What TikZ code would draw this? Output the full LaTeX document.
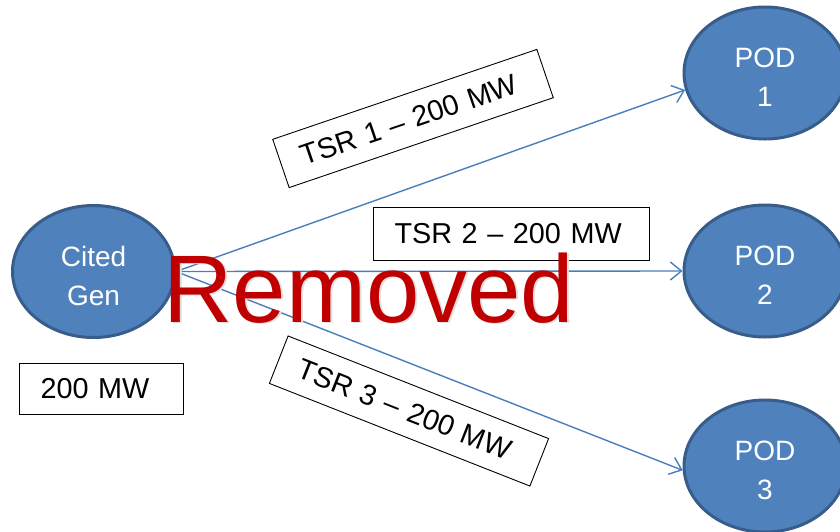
\documentclass[tikz,border=0pt]{standalone}
\usepackage{fontspec}
\setmainfont{Liberation Sans}
\usetikzlibrary{shapes.geometric,arrows.meta}
\definecolor{nodefill}{HTML}{4F81BD}
\definecolor{nodeline}{HTML}{385D8A}
\definecolor{linkcol}{HTML}{4A7EBB}
\definecolor{remred}{HTML}{C00000}
\newcommand{\twoline}[2]{\raisebox{-12.5pt}[0pt][0pt]{\begin{tabular}{@{}c@{}}#1\\#2\end{tabular}}}
\tikzset{
  bubble/.style={ellipse, fill=nodefill, draw=nodeline, line width=3pt,
    minimum width=162pt, minimum height=132pt, inner sep=0pt, text=white,
    font=\fontsize{28}{39}\selectfont},
  tag/.style={draw=black, line width=0.9pt, fill=white, inner ysep=0pt,
    inner xsep=21.5pt, text width=#1-43pt, align=left,
    minimum height=51pt, font=\fontsize{28.8}{34}\selectfont},
  link/.style={draw=linkcol, line width=1.4pt,
    -{Straight Barb[length=11pt,width=18pt,line width=1.4pt]}}
}
\begin{document}
\begin{tikzpicture}[x=1pt,y=-1pt]
\useasboundingbox (0,0) rectangle (840,531);
\clip (0,0) rectangle (840,531);
\node[bubble] (gen) at (93.5,271.5) {\twoline{Cited}{Gen}};
\node[bubble] (pod1) at (765,73) {\twoline{POD}{1}};
\node[bubble] (pod2) at (765,271) {\twoline{POD}{2}};
\node[bubble] (pod3) at (765,466) {\twoline{POD}{3}};
\node[tag=164pt] (mw) at (101,389) {200 MW};
\node[tag=279pt, rotate=18.8] (tsr1) at (413,118.5) {TSR 1 -- 200 MW};
\node[tag=276pt, minimum height=53pt] (tsr2) at (511,233.5) {TSR 2 -- 200 MW};
\node[tag=280pt, rotate=-21.5] (tsr3) at (409,411) {TSR 3 -- 200 MW};
\draw[link] (gen.east) -- (pod1.192);
\draw[link] (gen.east) -- (pod2.west);
\draw[link] (gen.east) -- (pod3.183);
\node[text=black!12, anchor=base, font=\fontsize{96}{96}\selectfont] (shadow) at (371,323.5) {Removed};
\node[text=remred, anchor=base, font=\fontsize{96}{96}\selectfont] (removed) at (369,322) {Removed};
\end{tikzpicture}
\end{document}
